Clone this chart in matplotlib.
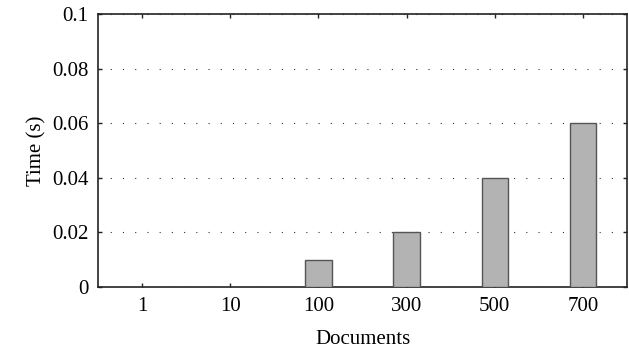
import numpy as np
import matplotlib.pyplot as plt

plt.rcParams['font.family'] = ['Liberation Serif', 'DejaVu Serif']

# Query time per document count
documents = ['1', '10', '100', '300', '500', '700']
time_s = [0.0, 0.0, 0.01, 0.02, 0.04, 0.06]

fig = plt.figure(figsize=(6.29, 3.51), dpi=100)
ax = fig.add_axes([98 / 629, 1 - 287 / 351, (627 - 98) / 629, (287 - 14) / 351])

x = np.arange(len(documents))
ax.bar(x, time_s, width=0.3, color='#b3b3b3', edgecolor='#555555', linewidth=1.0, zorder=3)

ax.set_xlim(-0.5, 5.5)
ax.set_ylim(0, 0.1)
ax.set_xticks(x)
ax.set_xticklabels(documents)
ax.set_yticks([0, 0.02, 0.04, 0.06, 0.08, 0.1])
ax.set_yticklabels(['0', '0.02', '0.04', '0.06', '0.08', '0.1'])

ax.yaxis.grid(True, linestyle=(0, (1, 10)), color='#333333', linewidth=0.8)
ax.set_axisbelow(True)

ax.tick_params(direction='in', length=3, width=1, top=True, right=True,
               labelsize=15, pad=7, color='#222222')
for s in ax.spines.values():
    s.set_linewidth(1.2)
    s.set_color('#222222')

ax.set_xlabel('Documents', fontsize=15, labelpad=10)
ax.set_ylabel('Time (s)', fontsize=15, labelpad=4)

fig.savefig('out.png', dpi=100)
